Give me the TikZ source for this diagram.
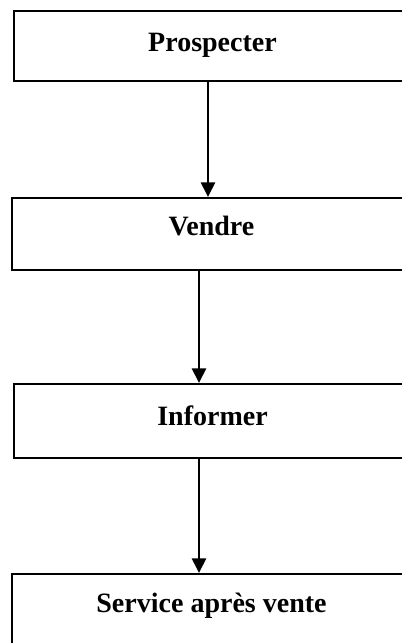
\documentclass[tikz,border=0pt]{standalone}
\usepackage{fontspec}
\setmainfont{Liberation Serif}
\usetikzlibrary{arrows.meta}

\begin{document}
\begin{tikzpicture}[x=0.75pt,y=-0.75pt,
  etape/.style={draw,line width=1.5pt,anchor=north,inner ysep=0pt,
                font=\fontsize{21}{25}\selectfont\bfseries},
  fleche/.style={-{Triangle[width=10.5pt,length=11pt]},line width=2pt}]
\clip (0,0) rectangle (402,643);

\node[etape,minimum width=297.75pt,text height=30pt,text depth=22.5pt]
  (pro) at (212.5,10) {Prospecter};
\node[etape,minimum width=299.25pt,text height=28.1pt,text depth=25.9pt]
  (ven) at (211.5,197) {Vendre};
\node[etape,minimum width=297.75pt,text height=30.75pt,text depth=24.75pt]
  (inf) at (212.5,383) {Informer};
\node[etape,minimum width=299.25pt,text height=28.9pt,text depth=36.4pt]
  (sav) at (211.5,573) {Service après vente};

\foreach \a/\b/\d in {pro/ven/-3.375pt,ven/inf/-9.375pt,inf/sav/-10.125pt}
  \draw[fleche] ([xshift=\d]\a.south) -- ([xshift=\d]\a.south |- \b.north);
\end{tikzpicture}
\end{document}
